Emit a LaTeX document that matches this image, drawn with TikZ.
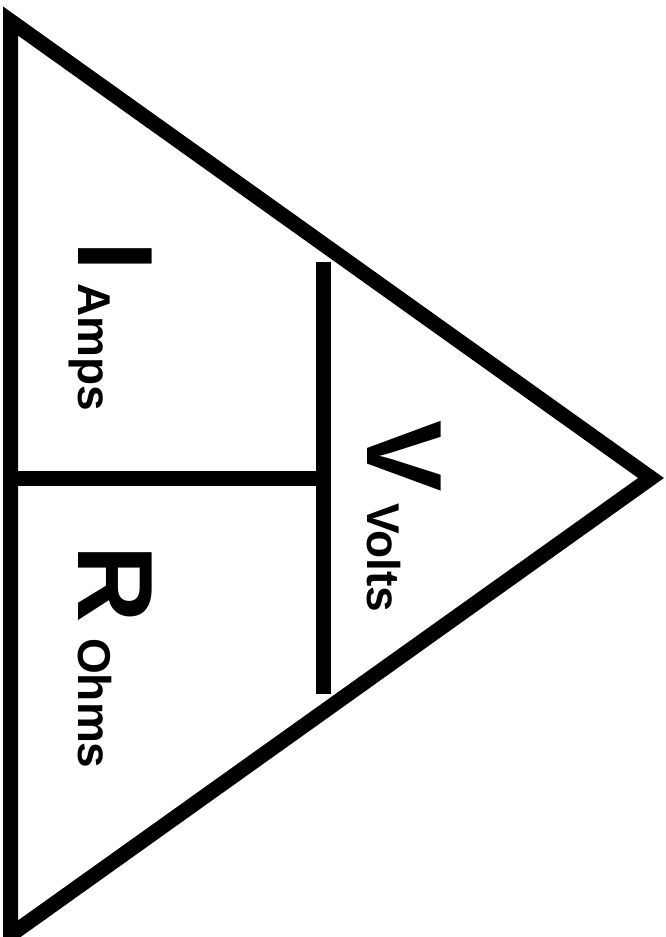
\documentclass[tikz,border=0pt]{standalone}
\usepackage{fontspec}
\setmainfont{Liberation Sans}

\begin{document}
\begin{tikzpicture}[x=1pt, y=-1pt, line join=miter,
  bar/.style={line width=15pt},
  bigletter/.style={anchor=base west, rotate=-90, inner sep=0pt, font=\fontsize{107}{107}\selectfont\bfseries},
  unitname/.style={anchor=base west, rotate=-90, inner sep=0pt, font=\fontsize{46}{46}\selectfont\bfseries}]
\useasboundingbox (0,0) rectangle (665,937);

\coordinate (top) at (10.5, 21);
\coordinate (apex) at (651, 478);
\coordinate (bottom) at (10.5, 935);
\coordinate (teetop) at (323, 262);
\coordinate (teebot) at (323, 694);
\coordinate (midleft) at (10.5, 478);
\coordinate (mid) at (323, 478);

\draw [bar] (top) -- (apex) -- (bottom) -- cycle;
\draw [bar] (teetop) -- (teebot);
\draw [bar] (midleft) -- (mid);

\node [bigletter] (I) at (78, 241) {I};
\node [unitname] (amps) at (78, 283) {Amps};
\node [bigletter] (R) at (78, 545) {R};
\node [unitname] (ohms) at (78, 638) {Ohms};
\node [bigletter] (V) at (367, 420) {V};
\node [unitname] (volts) at (367, 503) {Volts};
\end{tikzpicture}
\end{document}
